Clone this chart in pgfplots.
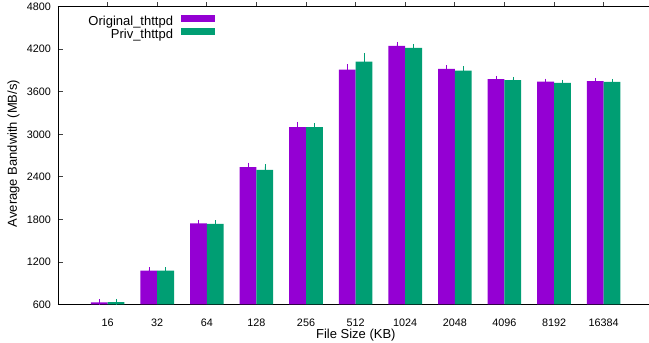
\documentclass[border=0pt]{standalone}
\usepackage{fontspec}
\setmainfont{Liberation Sans}
\usepackage{pgfplots}
\usepackage{pgfplotstable}
\pgfplotsset{compat=1.18}
\definecolor{cpurple}{RGB}{148,0,211}
\definecolor{cgreen}{RGB}{0,158,115}

\pgfplotstableread{
x p pe g ge
0 631 8 635 8
1 1077 14 1077 14
2 1745 14 1738 12
3 2539 28 2497 46
4 3103 38 3103 24
5 3912 38 4024 90
6 4246 24 4218 24
7 3922 14 3898 24
8 3780 10 3766 10
9 3742 8 3724 8
10 3752 8 3738 8
}\datatable

\begin{document}
\begin{tikzpicture}
\begin{axis}[
  name=ax,
  scale only axis,
  width=591pt, height=297.8pt,
  xmin=-1, xmax=10.915,
  ymin=600, ymax=4800,
  ytick={600,1200,...,4800},
  xtick={0,...,10},
  xticklabels={16,32,64,128,256,512,1024,2048,4096,8192,16384},
  axis x line*=box, axis y line*=left,
  xtick pos=upper, xticklabel pos=lower,
  ytick pos=left,
  tick align=inside,
  major tick length=4.5pt,
  tick style={black!75, line width=0.8pt},
  axis line style={black, line width=0.9pt},
  /pgf/number format/assume math mode=true,
  /pgf/number format/1000 sep={},
  ticklabel style={font=\fontsize{10.8}{13}\selectfont},
  xticklabel style={anchor=north, inner sep=0pt, yshift=-9.5pt},
  yticklabel style={anchor=east, inner sep=0pt, xshift=-7pt},
  every axis x label/.style={at={(rel axis cs:0.504,0)}, yshift=-34.5pt, anchor=base, font=\fontsize{13}{15}\selectfont},
  every axis y label/.style={at={(rel axis cs:0,0.507)}, xshift=-41.2pt, rotate=90, anchor=base, font=\fontsize{13}{15}\selectfont},
  xlabel={File Size (KB)},
  ylabel={Average Bandwith (MB/s)},
  ybar=0pt,
  bar width=16.8pt,
  legend image code/.code={\fill[#1] (0pt,0.6pt) rectangle (34pt,7.4pt);},
  legend cell align=right,
  legend plot pos=right,
  legend style={at={(rel axis cs:0.2657,0.971)}, anchor=north east, draw=none, fill=none, inner sep=0pt, outer sep=0pt, row sep=-1pt, column sep=8pt, font=\fontsize{13}{15}\selectfont, nodes={inner sep=0pt, text height=9.5pt, text depth=3.2pt}},
]
\addplot+[fill=cpurple, draw=none,
  error bars/.cd, y dir=both, y explicit,
  error bar style={cpurple, line width=0.6pt},
  error mark options={cpurple, line width=0.6pt, mark size=2.5pt}]
  table[x=x, y=p, y error=pe]{\datatable};
\addplot+[fill=cgreen, draw=none,
  error bars/.cd, y dir=both, y explicit,
  error bar style={cgreen, line width=0.6pt},
  error mark options={cgreen, line width=0.6pt, mark size=2.5pt}]
  table[x=x, y=g, y error=ge]{\datatable};
\legend{Original\_thttpd, Priv\_thttpd}
\end{axis}
\pgfresetboundingbox
\path ([xshift=-58pt,yshift=-38.5pt]ax.south west) rectangle ++(649pt,343pt);
\end{tikzpicture}
\end{document}
